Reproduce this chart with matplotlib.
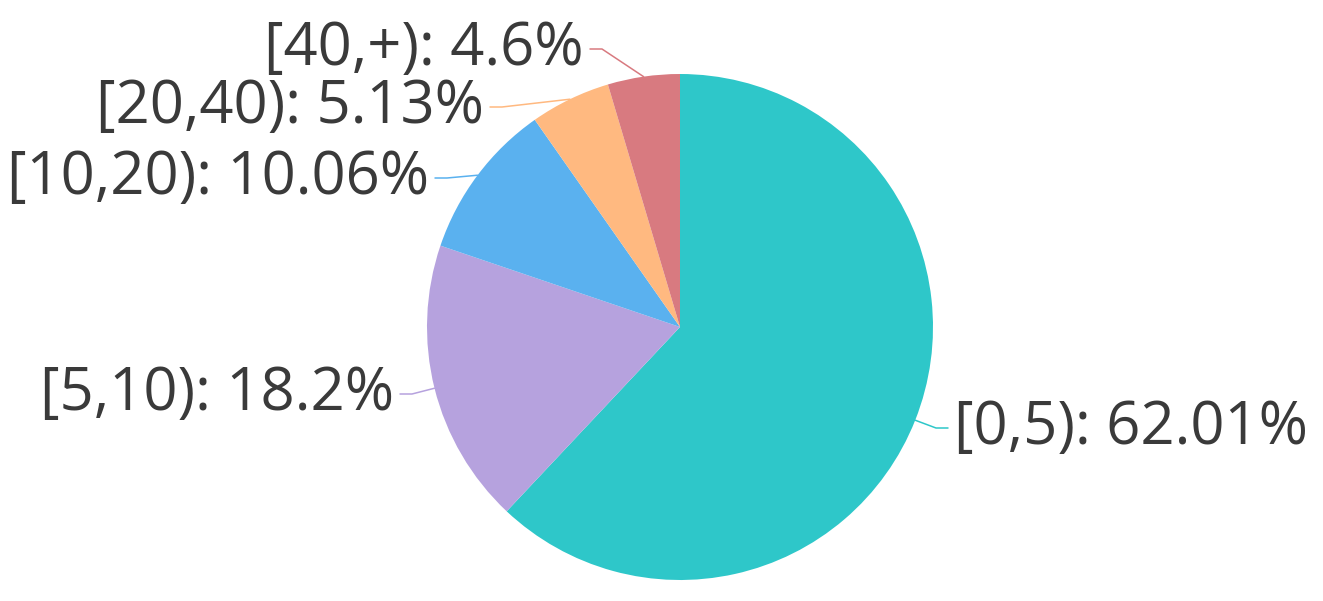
import numpy as np
import matplotlib.pyplot as plt

# share of each range, clockwise from 12 o'clock
categories = ['[0,5)', '[5,10)', '[10,20)', '[20,40)', '[40,+)']
shares = [62.01, 18.2, 10.06, 5.13, 4.6]
colors = ['#2ec7c9', '#b6a2de', '#5ab1ef', '#ffb980', '#d87a80']

# label layout in pixels (x of line end, y of label)
label_end_x = [948, 400, 435, 490, 590]
label_y = [428, 394, 178, 107, 49]

W, H = 1323, 601
cx, cy, r = 680, 327, 253

fig = plt.figure(figsize=(W / 100, H / 100), dpi=100)
ax = fig.add_axes([0, 0, 1, 1])

# y in the picture goes down, matplotlib goes up
def fy(y):
    return H - y

wedges, _ = ax.pie(shares, colors=colors, startangle=90, counterclock=False,
                   center=(cx, fy(cy)), radius=r,
                   wedgeprops=dict(linewidth=0))

start = 0.0
for i, (cat, val) in enumerate(zip(categories, shares)):
    mid = (start + val / 2) / 100 * 2 * np.pi   # clockwise from top
    start += val
    px = cx + r * np.sin(mid)
    py = cy - r * np.cos(mid)
    side = 1 if np.sin(mid) > 0 else -1
    ex, ey = label_end_x[i], label_y[i]
    elbow_x = ex - side * 12
    ax.plot([px, elbow_x, ex], [fy(py), fy(ey), fy(ey)], color=colors[i], lw=1.1,
            solid_capstyle='round')
    ax.text(ex + side * 6, fy(ey), f'{cat}: {val:g}%', ha='left' if side > 0 else 'right',
            va='center', fontsize=43, color='#3a3a3a', family='Open Sans')

ax.set_xlim(0, W)
ax.set_ylim(0, H)
ax.set_aspect('equal')
ax.axis('off')

fig.savefig('out.png', dpi=100)
